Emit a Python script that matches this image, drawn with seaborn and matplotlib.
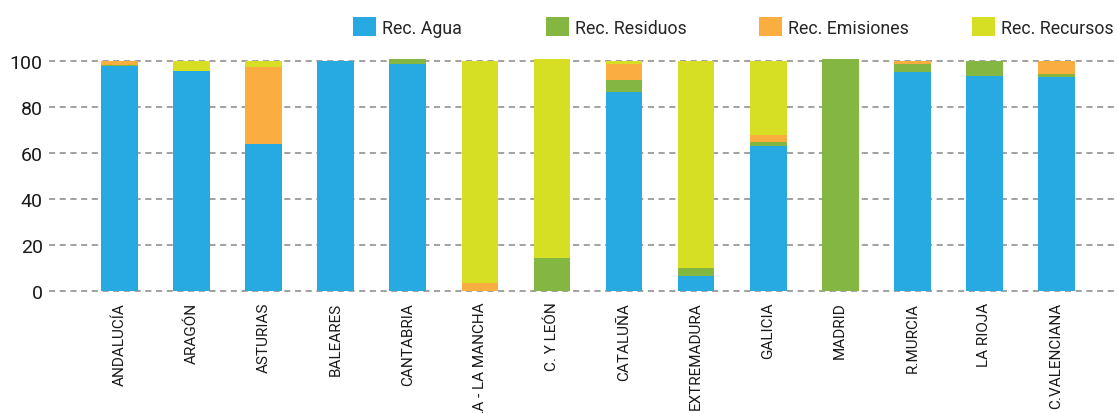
import numpy as np
import pandas as pd
import matplotlib
matplotlib.use("Agg")
import matplotlib.pyplot as plt
import seaborn as sns
from matplotlib.patches import Patch

regiones = ["ANDALUCÍA", "ARAGÓN", "ASTURIAS", "BALEARES", "CANTABRIA",
            "CASTILLA - LA MANCHA", "C. Y LEÓN", "CATALUÑA", "EXTREMADURA",
            "GALICIA", "MADRID", "R.MURCIA", "LA RIOJA", "C.VALENCIANA"]
agua = [97.5, 95.5, 64.0, 99.8, 98.7, 0.0, 0.0, 86.5, 6.5, 63.0, 0.0, 95.0, 93.5, 93.0]
residuos = [0.7, 0.0, 0.0, 0.0, 2.0, 0.0, 14.5, 5.2, 3.5, 1.8, 100.8, 3.3, 6.5, 1.3]
emisiones = [1.6, 0.0, 33.3, 0.0, 0.0, 3.6, 0.0, 7.0, 0.0, 3.0, 0.0, 1.7, 0.0, 5.7]
recursos = [0.2, 4.5, 2.7, 0.0, 0.0, 96.4, 86.3, 1.3, 90.0, 32.2, 0.0, 0.0, 0.0, 0.0]

series = ["Rec. Agua", "Rec. Residuos", "Rec. Emisiones", "Rec. Recursos"]
colores = ["#27A9E1", "#84B742", "#FBAE40", "#D6DF23"]

df = pd.DataFrame({"region": regiones, "Rec. Agua": agua, "Rec. Residuos": residuos,
                   "Rec. Emisiones": emisiones, "Rec. Recursos": recursos})

sns.set_style("white")
plt.rcParams["font.family"] = ["Roboto", "DejaVu Sans"]

fig = plt.figure(figsize=(11.17, 4.14), dpi=100)
ax = fig.add_axes([0.0439, 0.289, 0.9561, 0.579])

# apilado: se dibuja primero el acumulado total y encima los demás
acum = df[series].cumsum(axis=1)
for s, c in reversed(list(zip(series, colores))):
    sns.barplot(x=df["region"], y=acum[s], color=c, width=0.51, saturation=1,
                linewidth=0, edgecolor="none", ax=ax, zorder=3)

ax.set_ylim(-1, 103)
ax.set_xlim(-0.978, 13.84)
ax.set_yticks([0, 20, 40, 60, 80, 100])
ax.yaxis.grid(True, linestyle=(0, (4, 3)), color="#888888", linewidth=1.1, zorder=0)
ax.xaxis.grid(False)
sns.despine(ax=ax, left=True, bottom=True)
ax.tick_params(axis="y", length=0, labelsize=14, colors="#1a1a1a", pad=4.5)
ax.tick_params(axis="x", length=0, labelsize=11, colors="#1a1a1a", pad=6)
ax.set_xticks(range(len(regiones)))
ax.set_xticklabels(regiones, rotation=90, va="top", ha="center")
ax.set_xlabel("")
ax.set_ylabel("")

# leyenda: cada entrada en su sitio, como en el original
pos_x = [0.316, 0.4888, 0.6795, 0.8702]
for s, c, px in zip(series, colores, pos_x):
    fig.legend([Patch(facecolor=c, edgecolor="none")], [s], loc="center left",
               bbox_to_anchor=(px, 0.932), frameon=False, fontsize=12.8,
               handlelength=1.29, handleheight=1.24, handletextpad=0.33,
               borderpad=0, borderaxespad=0)

fig.savefig("out.png", dpi=100)
